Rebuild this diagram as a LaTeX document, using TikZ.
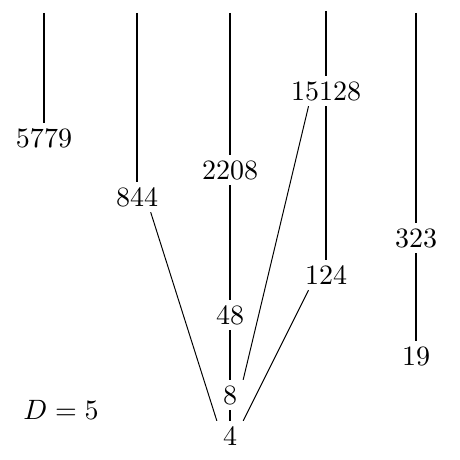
\documentclass[tikz,border=0pt]{standalone}
\usepackage{amsmath,amssymb}
\usepackage{tikz}
\usetikzlibrary{arrows.meta,positioning,calc}
\tikzset{
  numvertex/.style={inner sep=2pt},
  stemline/.style={line width=.7pt},
  linkline/.style={line width=.35pt}
}

\begin{document}
\begin{tikzpicture}[x=0.3571pt,y=-0.3571pt]
  \useasboundingbox (0,0) rectangle (460,460);
  \coordinate (c1) at (44,13);
  \coordinate (c2) at (137,13);
  \coordinate (c3) at (230,13);
  \coordinate (c4) at (326,11);
  \coordinate (c5) at (416,13);
  \node[numvertex] (v5779) at (44,138) {$5779$};
  \node[numvertex] (v844) at (137,197) {$844$};
  \node[numvertex] (v2208) at (230,170) {$2208$};
  \node[numvertex] (v48) at (230,315) {$48$};
  \node[numvertex] (v8) at (230,395) {$8$};
  \node[numvertex] (v4) at (230,436) {$4$};
  \node[numvertex] (v15128) at (326,91) {$15128$};
  \node[numvertex] (v124) at (326,275) {$124$};
  \node[numvertex] (v323) at (416,238) {$323$};
  \node[numvertex] (v19) at (416,356) {$19$};
  \node (dlabel) at (61,410) {$D=5$};
  \draw[stemline] (c1)--(v5779);
  \draw[stemline] (c2)--(v844);
  \draw[stemline] (c3)--(v2208);
  \draw[stemline] (v2208)--(v48);
  \draw[stemline] (v48)--(v8);
  \draw[stemline] (v8)--(v4);
  \draw[stemline] (c4)--(v15128);
  \draw[stemline] (v15128)--(v124);
  \draw[stemline] (c5)--(v323);
  \draw[stemline] (v323)--(v19);
  \draw[linkline] (v844.-48)--(v4.north west);
  \draw[linkline] (v8.north east)--(v15128.-139);
  \draw[linkline] (v4.north east)--(v124.-139);
\end{tikzpicture}
\end{document}
